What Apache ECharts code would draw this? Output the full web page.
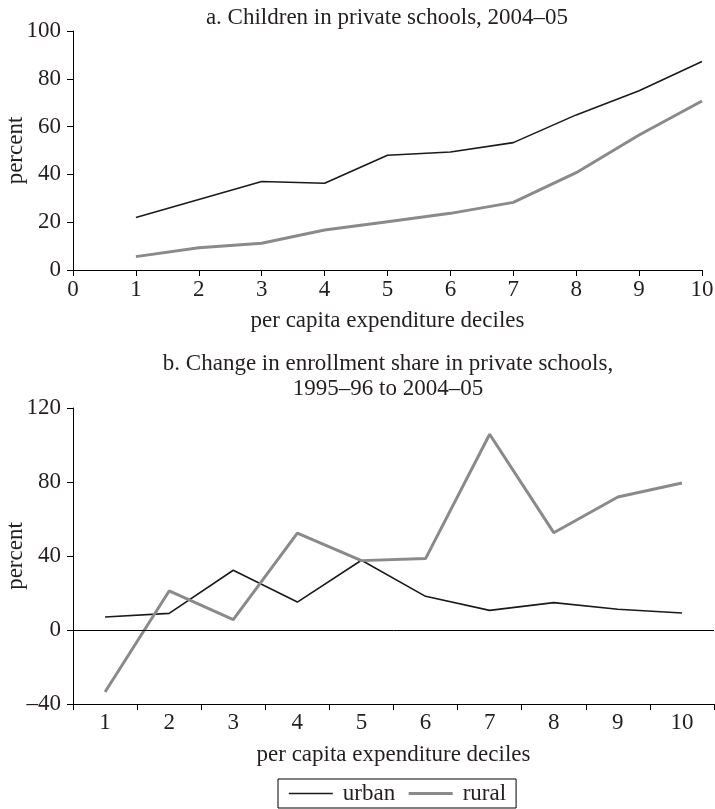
<!DOCTYPE html>
<html>
<head>
<meta charset="utf-8">
<script src="https://cdn.jsdelivr.net/npm/echarts@6/dist/echarts.min.js"></script>
<style>
html,body{margin:0;padding:0;background:#fff;}
#chart{width:715px;height:809px;}
</style>
</head>
<body>
<div id="chart"></div>
<script>
// ---- data ----
const deciles = [1, 2, 3, 4, 5, 6, 7, 8, 9, 10];
const deciLabels = ['1', '2', '3', '4', '5', '6', '7', '8', '9', '10'];
const urbanShare = [22, 29.5, 37, 36.3, 48, 49.4, 53.3, 64.9, 75, 87.2];
const ruralShare = [5.6, 9.3, 11.2, 16.7, 20.2, 23.7, 28.3, 40.7, 56.5, 70.7];
const urbanChange = [7, 9, 32.3, 15.1, 37.7, 18.2, 10.6, 14.8, 11.2, 9.2];
const ruralChange = [-33.5, 21.1, 5.6, 52.4, 37.5, 38.6, 105.8, 52.6, 71.9, 79.5];
const titleA = 'a. Children in private schools, 2004\u201305';
const titleB = 'b. Change in enrollment share in private schools,\n1995\u201396 to 2004\u201305';
const xName = 'per capita expenditure deciles';
const yName = 'percent';

const FONT = '"Liberation Serif", "Times New Roman", serif';
const TXT = '#231f20';
const FS = 23;
const urbanColor = '#1a1a1a';
const ruralColor = '#8a8a8a';
const urbanWidth = 1.6;
const ruralWidth = 3;

const axisLineStyle = { lineStyle: { color: '#000', width: 1 } };
const tickStyle = { show: true, length: 6, lineStyle: { color: '#000', width: 1 } };
const labelStyle = { color: TXT, fontFamily: FONT, fontSize: FS };
const nameStyle = { color: TXT, fontFamily: FONT, fontSize: FS };
const dashFmt = v => String(v).replace('-', '\u2013');

const chart = echarts.init(document.getElementById('chart'), null, { renderer: 'canvas' });
chart.setOption({
  backgroundColor: '#fff',
  animation: false,
  title: [
    { text: titleA, left: 387, top: 6, padding: 0, textAlign: 'center',
      textStyle: { color: TXT, fontFamily: FONT, fontSize: FS, fontWeight: 'normal' } },
    { text: titleB, left: 388, top: 351, padding: 0, textAlign: 'center',
      textStyle: { color: TXT, fontFamily: FONT, fontSize: FS, fontWeight: 'normal', lineHeight: 25 } }
  ],
  legend: {
    left: 278, top: 779,
    padding: [3, 10, 3, 10],
    itemWidth: 44, itemHeight: 14, itemGap: 12,
    borderColor: '#000', borderWidth: 1,
    itemStyle: { opacity: 0 },
    textStyle: { color: TXT, fontFamily: FONT, fontSize: FS, padding: [0, 0, 0, 5] },
    data: [
      { name: 'urban', lineStyle: { color: urbanColor, width: urbanWidth } },
      { name: 'rural', lineStyle: { color: ruralColor, width: ruralWidth } }
    ]
  },
  grid: [
    { left: 73, right: 13, top: 31, height: 239, outerBoundsMode: 'none', containLabel: false },
    { left: 73, right: 1, top: 408, height: 296, outerBoundsMode: 'none', containLabel: false }
  ],
  xAxis: [
    { gridIndex: 0, type: 'value', min: 0, max: 10, interval: 1,
      axisLine: axisLineStyle, axisTick: tickStyle, splitLine: { show: false },
      axisLabel: Object.assign({ margin: 8 }, labelStyle),
      name: xName, nameLocation: 'middle', nameGap: 39, nameMoveOverlap: false, nameTextStyle: nameStyle },
    { gridIndex: 1, type: 'category', data: deciLabels, boundaryGap: true,
      axisLine: Object.assign({ onZero: false }, axisLineStyle),
      axisTick: Object.assign({ alignWithLabel: false }, tickStyle),
      splitLine: { show: false },
      axisLabel: Object.assign({ margin: 7, interval: 0 }, labelStyle),
      name: xName, nameLocation: 'middle', nameGap: 39, nameMoveOverlap: false, nameTextStyle: nameStyle }
  ],
  yAxis: [
    { gridIndex: 0, type: 'value', min: 0, max: 100, interval: 20,
      axisLine: { show: true, lineStyle: { color: '#000', width: 1 } }, axisTick: tickStyle,
      splitLine: { show: false },
      axisLabel: Object.assign({ margin: 12, formatter: dashFmt }, labelStyle),
      name: yName, nameLocation: 'middle', nameGap: 46, nameRotate: 90, nameMoveOverlap: false, nameTextStyle: nameStyle },
    { gridIndex: 1, type: 'value', min: -40, max: 120, interval: 40,
      axisLine: { show: true, lineStyle: { color: '#000', width: 1 } }, axisTick: tickStyle,
      splitLine: { show: false },
      axisLabel: Object.assign({ margin: 12, formatter: dashFmt }, labelStyle),
      name: yName, nameLocation: 'middle', nameGap: 46, nameRotate: 90, nameMoveOverlap: false, nameTextStyle: nameStyle }
  ],
  series: [
    { name: 'urban', type: 'line', xAxisIndex: 0, yAxisIndex: 0,
      data: deciles.map((d, i) => [d, urbanShare[i]]),
      symbol: 'none', lineStyle: { color: urbanColor, width: urbanWidth }, itemStyle: { color: urbanColor } },
    { name: 'rural', type: 'line', xAxisIndex: 0, yAxisIndex: 0,
      data: deciles.map((d, i) => [d, ruralShare[i]]),
      symbol: 'none', lineStyle: { color: ruralColor, width: ruralWidth }, itemStyle: { color: ruralColor } },
    { name: 'urban', type: 'line', xAxisIndex: 1, yAxisIndex: 1,
      data: urbanChange,
      symbol: 'none', lineStyle: { color: urbanColor, width: urbanWidth }, itemStyle: { color: urbanColor },
      markLine: { silent: true, symbol: 'none', label: { show: false },
        lineStyle: { color: '#000', width: 1, type: 'solid' },
        data: [{ yAxis: 0 }] } },
    { name: 'rural', type: 'line', xAxisIndex: 1, yAxisIndex: 1,
      data: ruralChange,
      symbol: 'none', lineStyle: { color: ruralColor, width: ruralWidth }, itemStyle: { color: ruralColor } }
  ]
});
</script>
</body>
</html>
